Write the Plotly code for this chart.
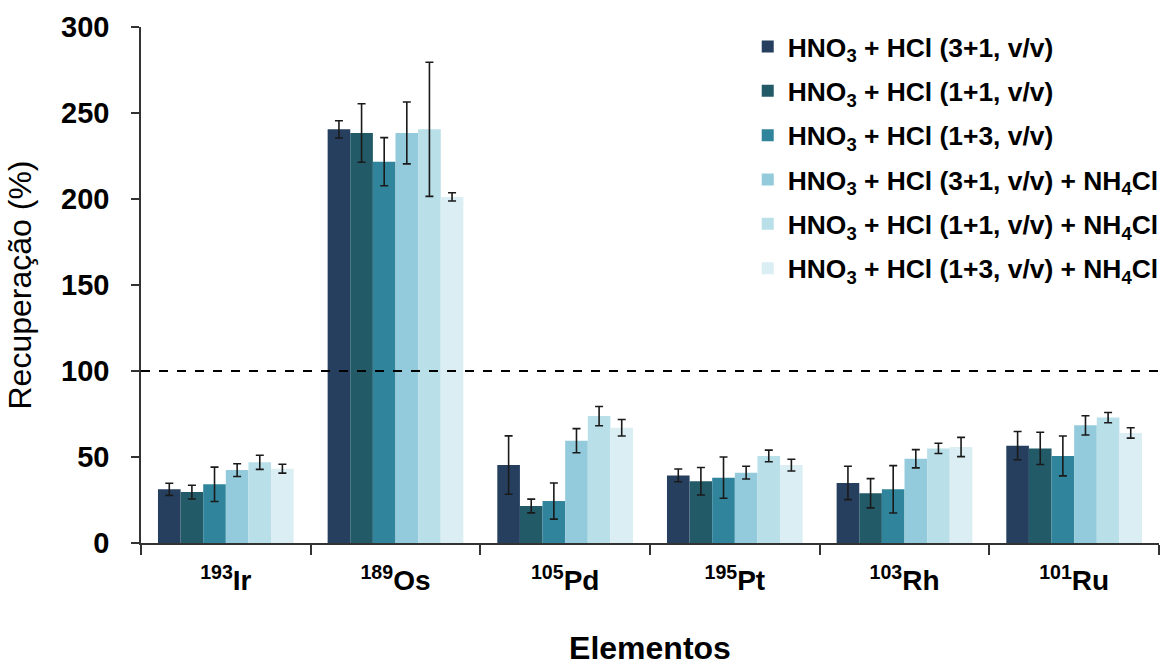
import plotly.graph_objects as go

elements = ["Ir", "Os", "Pd", "Pt", "Rh", "Ru"]
masses = [193, 189, 105, 195, 103, 101]

series_names = [
    "HNO<sub>3</sub> + HCl (3+1, v/v)",
    "HNO<sub>3</sub> + HCl (1+1, v/v)",
    "HNO<sub>3</sub> + HCl (1+3, v/v)",
    "HNO<sub>3</sub> + HCl (3+1, v/v) + NH<sub>4</sub>Cl",
    "HNO<sub>3</sub> + HCl (1+1, v/v) + NH<sub>4</sub>Cl",
    "HNO<sub>3</sub> + HCl (1+3, v/v) + NH<sub>4</sub>Cl",
]

# values per series (Ir, Os, Pd, Pt, Rh, Ru)
s1 = [31.2, 240.5, 45.3, 39.3, 34.9, 56.6]
s2 = [29.6, 238.4, 21.5, 35.9, 28.9, 55.0]
s3 = [34.1, 221.7, 24.4, 38.0, 31.2, 50.6]
s4 = [42.4, 238.4, 59.5, 40.9, 49.0, 68.4]
s5 = [46.9, 240.5, 73.8, 50.6, 55.0, 72.9]
s6 = [43.2, 201.2, 67.0, 45.3, 55.8, 64.0]

e1 = [3.5, 5.0, 17.0, 3.7, 9.7, 8.2]
e2 = [4.0, 17.0, 4.0, 8.0, 8.5, 9.4]
e3 = [10.0, 14.0, 10.5, 12.0, 13.8, 11.6]
e4 = [3.7, 18.0, 7.0, 3.7, 5.3, 5.6]
e5 = [4.1, 39.0, 5.6, 3.4, 3.0, 3.0]
e6 = [2.6, 2.4, 4.8, 3.4, 5.6, 3.0]

values = [s1, s2, s3, s4, s5, s6]
errors = [e1, e2, e3, e4, e5, e6]
colors = ["#263f5f", "#235a68", "#30849b", "#93cbdc", "#b9dfe8", "#dbeef4"]

labels = [f"<sup>{m}</sup>{e}" for m, e in zip(masses, elements)]

FONT = "Liberation Sans, Arial, sans-serif"

fig = go.Figure()
for i in range(6):
    fig.add_trace(go.Bar(
        x=labels, y=values[i], name=series_names[i],
        marker=dict(color=colors[i], line=dict(width=0)),
        error_y=dict(type="data", array=errors[i], visible=True,
                     color="#1a1a1a", thickness=1.6, width=4),
        legendgroup=f"g{i}",
    ))

fig.add_shape(type="line", xref="paper", yref="y", x0=0, x1=1, y0=100, y1=100,
              line=dict(color="black", width=2, dash="dash"))

fig.update_layout(
    width=1164, height=666,
    margin=dict(l=141, r=5, t=27, b=123, autoexpand=False),
    plot_bgcolor="white", paper_bgcolor="white",
    barmode="group", bargap=0.2, bargroupgap=0,
    font=dict(family=FONT, color="black", weight="bold"),
    legend=dict(x=0.596, y=1.008, xanchor="left", yanchor="top",
                font=dict(size=26.4, family=FONT, weight="bold"),
                traceorder="grouped", tracegroupgap=7,
                bgcolor="rgba(0,0,0,0)"),
    showlegend=True,
)
fig.update_yaxes(range=[0, 300], tickvals=[0, 50, 100, 150, 200, 250, 300],
                 showline=True, linecolor="#333333", linewidth=1.5,
                 ticks="outside", ticklen=8, tickcolor="#333333", tickwidth=1.5,
                 ticklabelstandoff=16,
                 showgrid=False, zeroline=False,
                 tickfont=dict(size=29, family=FONT, weight="bold"),
                 title=dict(text="Recuperação (%)", standoff=20,
                            font=dict(size=32, family=FONT, weight="normal")))
fig.update_xaxes(showline=True, linecolor="#333333", linewidth=1.5,
                 ticks="outside", tickson="boundaries", ticklen=10,
                 tickcolor="#333333", tickwidth=1.5, showgrid=False,
                 ticklabelstandoff=12,
                 tickfont=dict(size=28, family=FONT, weight="bold"),
                 title=dict(text="Elementos", standoff=49,
                            font=dict(size=32, family=FONT, weight="bold")))

fig.write_html("out.html")
